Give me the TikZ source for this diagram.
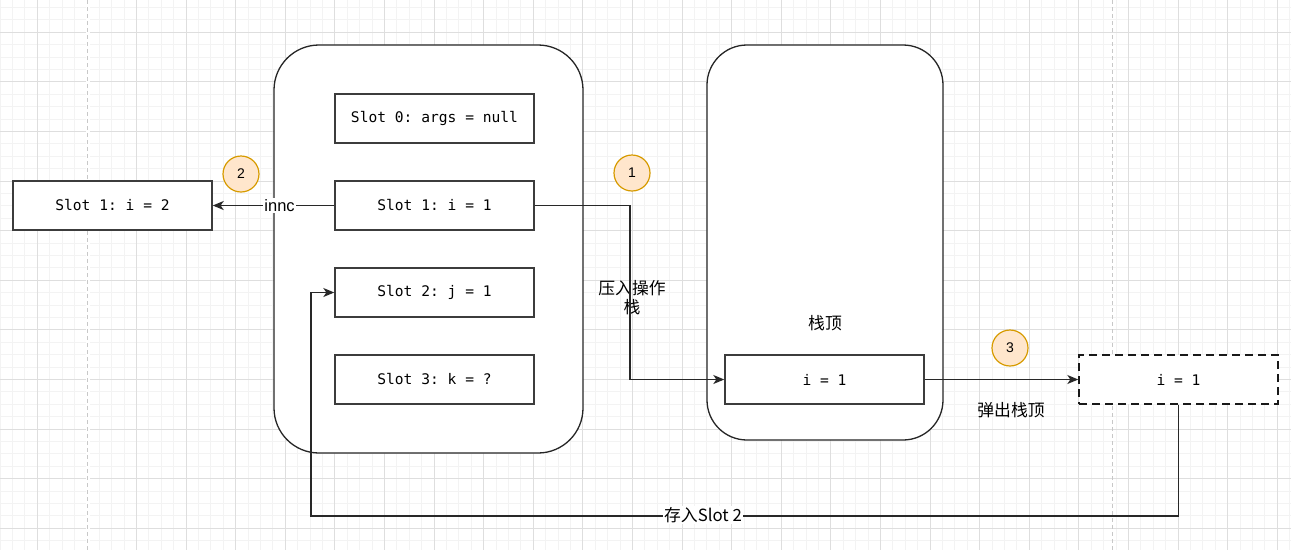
\documentclass[tikz,border=0pt]{standalone}
\usepackage{fontspec}
\setmainfont{Liberation Sans}
\setmonofont{DejaVu Sans Mono}
\newfontfamily\cjk{Noto Sans CJK SC}
\usetikzlibrary{arrows.meta}
\definecolor{circfill}{RGB}{255,230,204}
\definecolor{circdraw}{RGB}{215,155,0}
\definecolor{edgec}{RGB}{40,40,40}
\definecolor{boxc}{RGB}{60,60,60}
\tikzset{
  minorgrid/.style={draw={rgb,255:red,243;green,243;blue,243}, line width=0.9pt},
  majorgrid/.style={draw={rgb,255:red,222;green,222;blue,222}, line width=0.9pt},
  pageline/.style={draw={rgb,255:red,200;green,200;blue,200}, line width=1.2pt, dash pattern=on 4pt off 3pt},
  slotbox/.style={draw=boxc, line width=1.4pt, fill=white, minimum width=199pt, minimum height=49pt, inner sep=0pt, font=\ttfamily\fontsize{14.6}{16}\selectfont},
  frame/.style={draw=black!85, line width=1.3pt, fill=white, inner sep=0pt},
  circ/.style={circle, draw=circdraw, fill=circfill, line width=1.2pt, minimum size=36pt, inner sep=0pt, font=\fontsize{14}{16}\selectfont},
  arr/.style={draw=edgec, line width=1.3pt, -{Stealth[length=11pt,width=9pt,inset=3pt]}},
  lbl/.style={inner sep=1pt, font=\fontsize{16.5}{18}\selectfont},
  cjklbl/.style={inner sep=1pt, align=center, font=\cjk\fontsize{16.8}{19}\selectfont},
}
\begin{document}
\begin{tikzpicture}[x=1pt,y=-1pt]
\useasboundingbox (0,0) rectangle (1291,550);
\fill[white] (0,0) rectangle (1291,550);
% grid
\foreach \i in {0,...,104} {\draw[minorgrid] ({0.1+12.4*\i},0) -- ({0.1+12.4*\i},550);}
\foreach \j in {0,...,44} {\draw[minorgrid] (0,{7.5+12.4*\j}) -- (1291,{7.5+12.4*\j});}
\foreach \i in {0,...,25} {\draw[majorgrid] ({37.3+49.6*\i},0) -- ({37.3+49.6*\i},550);}
\foreach \j in {0,...,10} {\draw[majorgrid] (0,{32.3+49.6*\j}) -- (1291,{32.3+49.6*\j});}
\fill[white] (86,0) rectangle (89.5,550);
\draw[pageline] (87.7,0) -- (87.7,550);
\draw[pageline] (1112.7,0) -- (1112.7,550);

% frames
\node[frame, rounded corners=45pt, minimum width=309pt, minimum height=408pt] (lv) at (428.5,249) {};
\node[frame, rounded corners=40pt, minimum width=236pt, minimum height=395pt] (os) at (825,242.5) {};

% slot boxes
\node[slotbox] (s0) at (434.5,118.5) {Slot 0: args = null};
\node[slotbox] (s1) at (434.5,205.5) {Slot 1: i = 1};
\node[slotbox] (s2) at (434.5,292.5) {Slot 2: j = 1};
\node[slotbox] (s3) at (434.5,379.5) {Slot 3: k = ?};
\node[slotbox] (left) at (112.5,205.5) {Slot 1: i = 2};
\node[slotbox] (st) at (824.5,379.5) {i = 1};
\node[slotbox, draw=black!90, dash pattern=on 8pt off 5pt] (dsh) at (1178.5,379.5) {i = 1};

% circles
\node[circ] (c1) at (632,173) {1};
\node[circ] (c2) at (241,174) {2};
\node[circ] (c3) at (1010,348) {3};

% texts
\node[cjklbl] (top) at (825,323) {栈顶};
\node[cjklbl] (pushl) at (632,298) {压入操作\\栈};
\node[cjklbl] (popl) at (1011,410) {弹出栈顶};

% connectors
\coordinate (k1) at (630,0);
\draw[arr] (s1.east) -- (s1.east -| k1) -- (k1 |- st.west) -- (st.west);
\draw[arr] (s1.west) -- node[lbl, fill=white, pos=0.45] (innc) {innc} (left.east);
\draw[arr] (st.east) -- (dsh.west);
\coordinate (k2) at (311,516);
\draw[arr] (dsh.south) |- (k2) -- (k2 |- s2.west) -- (s2.west);
\node[cjklbl, fill=white] (storel) at (703,515) {存入Slot 2};
\end{tikzpicture}
\end{document}
